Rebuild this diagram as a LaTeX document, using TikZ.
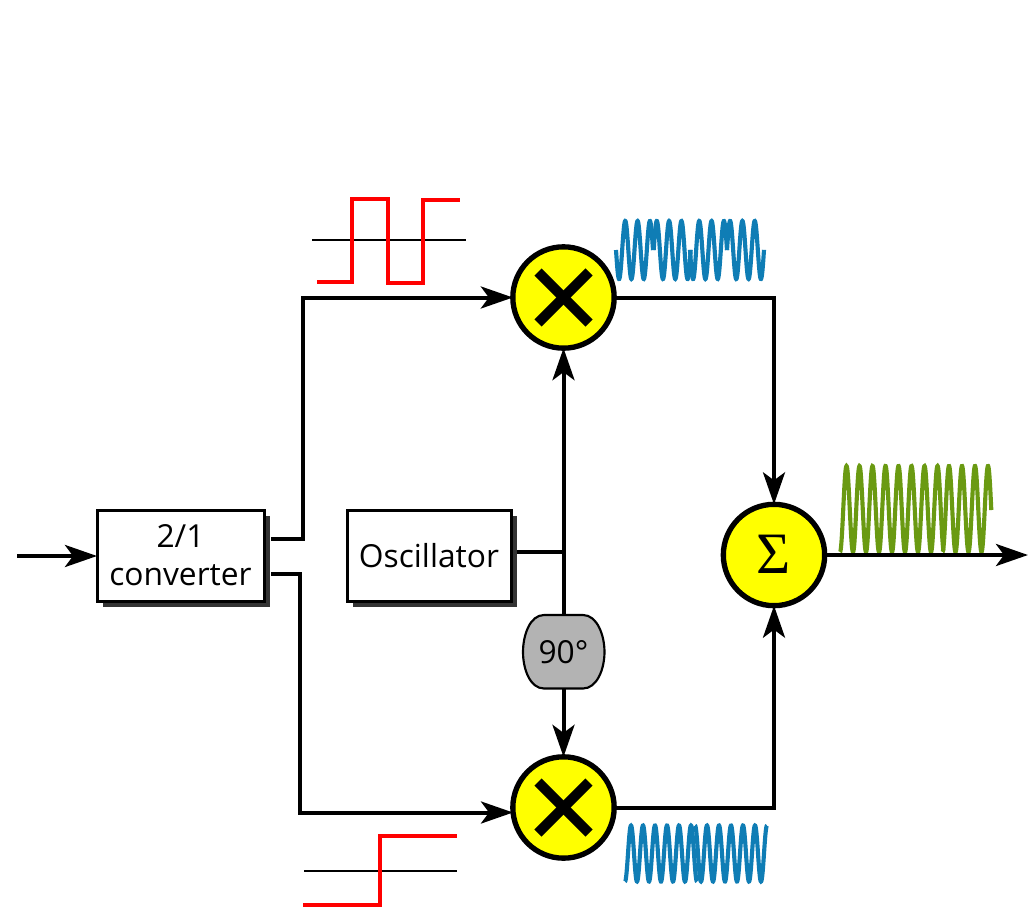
\documentclass[tikz,border=0pt]{standalone}
\usepackage{fontspec}
\setmainfont{Open Sans}
\newfontfamily\sigmafont{Liberation Serif}
\usetikzlibrary{arrows.meta,shadows,calc}
\definecolor{wblue}{HTML}{0F7DB5}
\definecolor{wgreen}{HTML}{6A9A12}
\definecolor{shade}{HTML}{333333}
\definecolor{bubble}{HTML}{FFFF00}
\definecolor{phase}{HTML}{B3B3B3}
\tikzset{
  wire/.style={line width=3pt,draw=black,line join=miter},
  thin wire/.style={line width=3pt,draw=black},
  arrowed/.style={-{Stealth[length=24pt,width=16.5pt,inset=6pt]}},
  blockbox/.style={draw=black,line width=2.25pt,fill=white,inner sep=0pt,outer sep=0pt,
    minimum height=68.25pt,align=center,
    font=\fontsize{23.8}{28.5}\selectfont,
    drop shadow={shadow xshift=4.5pt,shadow yshift=-4.5pt,fill=shade,opacity=1}},
  mixer/.style={circle,draw=black,line width=4pt,fill=bubble,minimum size=76pt,inner sep=0pt,outer sep=0pt},
  phaselabel/.style={inner sep=0pt,outer sep=0pt,minimum width=61.5pt,minimum height=55.5pt,
    font=\fontsize{23.8}{27}\selectfont},
  phaseshape/.style={draw=black,line width=1.6pt,fill=phase},
  crossbar/.style={line width=7.5pt,draw=black},
  redsig/.style={line width=2.8pt,draw=red,line join=miter},
  refline/.style={line width=1.8pt,draw=black},
  bluewave/.style={line width=3.1pt,draw=wblue},
  greenwave/.style={line width=3.1pt,draw=wgreen},
}
\begin{document}
\begin{tikzpicture}[x=0.75pt,y=-0.75pt]
\useasboundingbox (0,0) rectangle (1028,910);
% wave forms
\draw[bluewave] plot[domain=616:653,samples=150] (\x,{250+29*sin(29.197*(\x-616))});
\draw[bluewave] plot[domain=653.7:690.7,samples=150] (\x,{250-29*sin(29.197*(\x-653.7))});
\draw[bluewave] plot[domain=690:727,samples=150] (\x,{250+29*sin(29.197*(\x-690))});
\draw[bluewave] plot[domain=727:764,samples=150] (\x,{250-29*sin(29.197*(\x-727))});
\draw[bluewave] plot[domain=625:697,samples=300] (\x,{853.5+28*cos(30*(\x-625))});
\draw[bluewave] plot[domain=695:767,samples=300] (\x,{853.5-28*cos(30*(\x-695))});
\draw[greenwave] plot[domain=840:943.5,samples=400] (\x,{509+43*cos(27.692*(\x-840))});
\draw[greenwave] plot[domain=942.5:991.3,samples=200] (\x,{509+43*cos(27.692*(\x-942.5))});
% baseband signals
\draw[refline] (312,240) -- (466,240);
\draw[redsig] (317,282) -- (352,282) -- (352,199) -- (388,199) -- (388,283) -- (423,283) -- (423,200) -- (460,200);
\draw[refline] (304,871) -- (457,871);
\draw[redsig] (303,905) -- (380,905) -- (380,836) -- (457,836);
% blocks
\node[blockbox,minimum width=125.25pt] (conv) at (180.5,555.5) {2/1\\converter};
\node[blockbox,minimum width=123pt] (osc) at (429,555.5) {Oscillator};
\draw[phaseshape] (544,615) -- (583,615) .. controls (597,615) and (604.5,635) .. (604.5,652)
  .. controls (604.5,669) and (597,688.5) .. (583,688.5) -- (544,688.5)
  .. controls (530,688.5) and (523,669) .. (523,652) .. controls (523,635) and (530,615) .. (544,615) -- cycle;
\node[phaselabel] (shift) at (563.5,652) {90°};
\node[mixer] (mtop) at (563.5,297.5) {};
\node[mixer] (mbot) at (563.5,807.5) {};
\node[mixer] (sum) at (774,555) {\raisebox{1pt}{\fontsize{44}{44}\sigmafont Σ}};
\foreach \m in {mtop,mbot}{
  \draw[crossbar] ($(\m.center)+(-25.5,-25.5)$) -- ($(\m.center)+(25.5,25.5)$);
  \draw[crossbar] ($(\m.center)+(-25.5,25.5)$) -- ($(\m.center)+(25.5,-25.5)$);
}
% free ends and junctions
\coordinate (in) at (17,556);
\coordinate (out) at (1028,555);
\coordinate (convA) at (271,538.5);
\coordinate (convB) at (271,573.5);
\coordinate (oscOut) at (517,552);
\coordinate (junction) at (563.5,552);
% connectors
\draw[wire,arrowed] (in) -- (conv.west |- in);
\draw[wire,arrowed] (convA) -- (303,538.5) -- (303,297.5) -- (mtop.west);
\draw[wire,arrowed] (convB) -- (300,573.5) -- (300,812.5) -- (513,812.5);
\draw[thin wire] (oscOut) -- (junction);
\draw[thin wire,arrowed] (shift.north -| mtop) -- (mtop.south);
\draw[thin wire,arrowed] (shift.south -| mbot) -- (mbot.north);
\draw[wire,arrowed] (mtop.east) -- (774,297.5) -- (sum.north);
\draw[wire,arrowed] (mbot.east) -- (774,807.5) -- (sum.south);
\draw[wire,arrowed] (sum.east) -- (out);
\end{tikzpicture}
\end{document}
